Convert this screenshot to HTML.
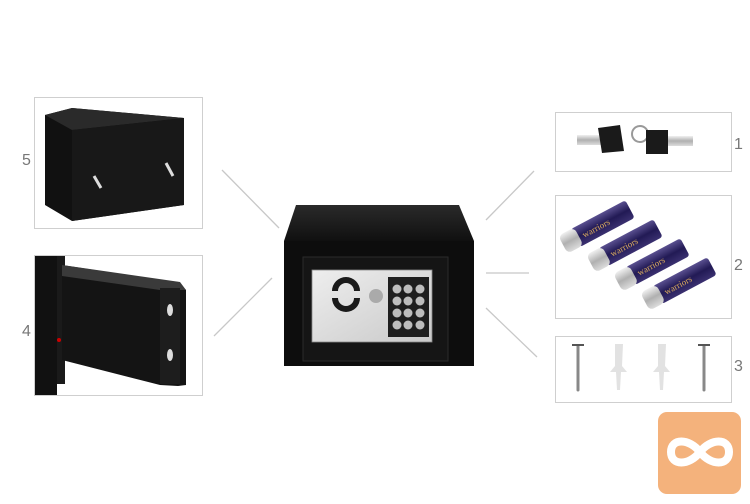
<!DOCTYPE html>
<html><head><meta charset="utf-8"><style>
html,body{margin:0;padding:0;background:#fff;width:750px;height:504px;overflow:hidden}
</style></head><body>
<svg width="750" height="504" viewBox="0 0 750 504" xmlns="http://www.w3.org/2000/svg" font-family="Liberation Sans, sans-serif">
<defs>
<linearGradient id="bat" x1="0" y1="0" x2="0" y2="1"><stop offset="0" stop-color="#5a5090"/><stop offset="0.5" stop-color="#221a55"/><stop offset="1" stop-color="#3a3070"/></linearGradient>
<linearGradient id="sil" x1="0" y1="0" x2="0" y2="1"><stop offset="0" stop-color="#f0f0f0"/><stop offset="0.5" stop-color="#b0b0b0"/><stop offset="1" stop-color="#dcdcdc"/></linearGradient>
<linearGradient id="pan" x1="0" y1="0" x2="1" y2="1"><stop offset="0" stop-color="#eeeeee"/><stop offset="1" stop-color="#c9c9c9"/></linearGradient>
<linearGradient id="top" x1="0" y1="0" x2="0" y2="1"><stop offset="0" stop-color="#2a2a2a"/><stop offset="1" stop-color="#101010"/></linearGradient>
</defs>
<g stroke="#c8c8c8" stroke-width="1.3">
<line x1="222" y1="170" x2="279" y2="228"/>
<line x1="272" y1="278" x2="214" y2="336"/>
<line x1="486" y1="220" x2="534" y2="171"/>
<line x1="486" y1="273" x2="529" y2="273"/>
<line x1="486" y1="308" x2="537" y2="357"/>
</g>
<g fill="none" stroke="#cfcfcf" stroke-width="1">
<rect x="34.5" y="97.5" width="168" height="131"/>
<rect x="34.5" y="255.5" width="168" height="140"/>
<rect x="555.5" y="112.5" width="176" height="59"/>
<rect x="555.5" y="195.5" width="176" height="123"/>
<rect x="555.5" y="336.5" width="176" height="66"/>
</g>
<g font-size="16" fill="#777">
<text x="22" y="165">5</text>
<text x="22" y="336">4</text>
<text x="734" y="149">1</text>
<text x="734" y="270">2</text>
<text x="734" y="371">3</text>
</g>
<polygon points="296,205 459,205 474,241 284,241" fill="url(#top)"/>
<rect x="284" y="241" width="190" height="125" fill="#0d0d0d"/>
<rect x="303" y="257" width="145" height="104" fill="#151515" stroke="#2a2a2a"/>
<rect x="312" y="270" width="120" height="72" fill="url(#pan)" stroke="#888" stroke-width="0.8"/>
<path d="M332,291 a14,14 0 0 1 28,0 l-6,0 a8,8 0 0 0 -16,0z" fill="#1a1a1a"/>
<path d="M332,298 a14,14 0 0 0 28,0 l-6,0 a8,8 0 0 1 -16,0z" fill="#1a1a1a"/>
<circle cx="376" cy="296" r="7" fill="#aaa"/>
<rect x="388" y="277" width="41" height="60" fill="#1e1e1e"/>
<g fill="#bdbdbd">
<circle cx="397" cy="289" r="4.5"/><circle cx="408" cy="289" r="4.5"/><circle cx="420" cy="289" r="4.5"/>
<circle cx="397" cy="301" r="4.5"/><circle cx="408" cy="301" r="4.5"/><circle cx="420" cy="301" r="4.5"/>
<circle cx="397" cy="313" r="4.5"/><circle cx="408" cy="313" r="4.5"/><circle cx="420" cy="313" r="4.5"/>
<circle cx="397" cy="325" r="4.5"/><circle cx="408" cy="325" r="4.5"/><circle cx="420" cy="325" r="4.5"/>
</g>
<polygon points="45,115 72,108 184,118 184,205 72,221 45,205" fill="#111"/>
<polygon points="45,115 72,108 184,118 72,130" fill="#2a2a2a"/>
<polygon points="72,130 184,118 184,205 72,221" fill="#181818"/>
<line x1="94" y1="176" x2="101" y2="188" stroke="#ddd" stroke-width="3"/>
<line x1="166" y1="163" x2="173" y2="176" stroke="#ddd" stroke-width="3"/>
<rect x="35" y="256" width="22" height="139" fill="#111"/>
<rect x="57" y="256" width="8" height="128" fill="#1a1a1a"/>
<polygon points="62,265 160,280 178,282 186,290 186,385 178,386 160,385 62,360" fill="#141414"/>
<polygon points="62,265 180,282 186,290 160,290 62,276" fill="#3a3a3a"/>
<rect x="160" y="288" width="20" height="96" fill="#1d1d1d"/>
<ellipse cx="170" cy="310" rx="3" ry="6" fill="#ddd"/>
<ellipse cx="170" cy="355" rx="3" ry="6" fill="#ddd"/>
<circle cx="59" cy="340" r="2" fill="#c00"/>
<rect x="577" y="135" width="25" height="10" fill="url(#sil)"/>
<path d="M598,128 l22,-3 l4,26 l-22,2z" fill="#1a1a1a"/>
<circle cx="640" cy="134" r="8" fill="none" stroke="#999" stroke-width="2"/>
<path d="M646,130 l22,0 l0,24 l-22,0z" fill="#1a1a1a"/>
<rect x="668" y="136" width="25" height="10" fill="url(#sil)"/>
<g>
<g transform="translate(600,225) rotate(-28)"><rect x="-28" y="-10" width="62" height="20" rx="3" fill="url(#bat)"/><rect x="-42" y="-10" width="18" height="20" rx="5" fill="url(#sil)"/><text x="-20" y="4" font-size="9" fill="#e0b060" font-family="Liberation Serif,serif">warriors</text></g>
<g transform="translate(628,244) rotate(-28)"><rect x="-28" y="-10" width="62" height="20" rx="3" fill="url(#bat)"/><rect x="-42" y="-10" width="18" height="20" rx="5" fill="url(#sil)"/><text x="-20" y="4" font-size="9" fill="#e0b060" font-family="Liberation Serif,serif">warriors</text></g>
<g transform="translate(655,263) rotate(-28)"><rect x="-28" y="-10" width="62" height="20" rx="3" fill="url(#bat)"/><rect x="-42" y="-10" width="18" height="20" rx="5" fill="url(#sil)"/><text x="-20" y="4" font-size="9" fill="#e0b060" font-family="Liberation Serif,serif">warriors</text></g>
<g transform="translate(682,282) rotate(-28)"><rect x="-28" y="-10" width="62" height="20" rx="3" fill="url(#bat)"/><rect x="-42" y="-10" width="18" height="20" rx="5" fill="url(#sil)"/><text x="-20" y="4" font-size="9" fill="#e0b060" font-family="Liberation Serif,serif">warriors</text></g>
</g>
<g stroke="#888" stroke-width="3" stroke-linecap="round">
<line x1="578" y1="346" x2="578" y2="390"/><line x1="704" y1="346" x2="704" y2="390"/>
</g>
<g stroke="#555"><line x1="572" y1="345" x2="584" y2="345" stroke-width="2"/><line x1="698" y1="345" x2="710" y2="345" stroke-width="2"/></g>
<g fill="#e2e2e2">
<path d="M615,344 l8,0 l-1,22 l5,6 l-6,0 l-1,18 l-3,0 l-1,-18 l-6,0 l5,-6z"/>
<path d="M658,344 l8,0 l-1,22 l5,6 l-6,0 l-1,18 l-3,0 l-1,-18 l-6,0 l5,-6z"/>
</g>
<rect x="658" y="412" width="83" height="82" rx="9" fill="#f4b27c"/>
<path d="M700,452 C689,438 671,438 671,452 C671,466 689,466 700,452 C711,438 729,438 729,452 C729,466 711,466 700,452Z" fill="none" stroke="#fff" stroke-width="8"/>
</svg>
</body></html>
